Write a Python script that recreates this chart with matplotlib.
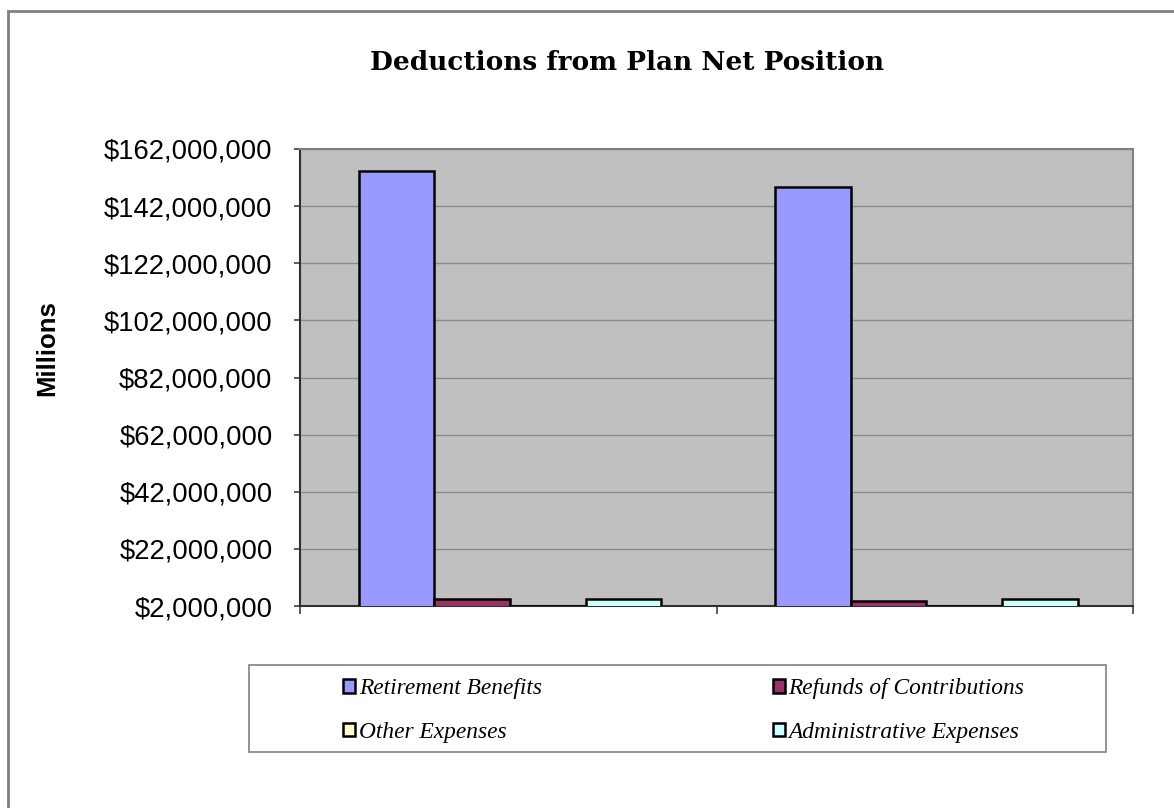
import numpy as np
import matplotlib
matplotlib.use('Agg')
import matplotlib.pyplot as plt
from matplotlib.patches import Rectangle
from matplotlib.ticker import FuncFormatter

# data
years = ['', '']
series_names = ['Retirement Benefits', 'Refunds of Contributions',
                'Other Expenses', 'Administrative Expenses']
retirement = [154400000, 148800000]
refunds = [4400000, 3700000]
other = [2150000, 2150000]
admin = [4400000, 4600000]
colors = ['#9999FF', '#993366', '#FFFFCC', '#CCFFFF']

W, H = 1174, 808
fig = plt.figure(figsize=(W / 100, H / 100), dpi=100)
ax = fig.add_axes([300 / W, 1 - 606 / H, 833 / W, 457 / H])

# outer frame of the chart (right/bottom edges fall outside the image)
fig.patches.append(Rectangle((8 / W, -0.05), 1.2, 1.05 - 11 / H,
                             transform=fig.transFigure, fill=False,
                             edgecolor='#808080', linewidth=2))

x = np.arange(len(years)) + 0.004
width = 0.1815
values = [retirement, refunds, other, admin]
for i, (vals, c, name) in enumerate(zip(values, colors, series_names)):
    ax.bar(x + (i - 1.5) * width, vals, width, color=c, edgecolor='black',
           linewidth=1.8, label=name, zorder=3)

ax.set_xlim(-0.5, 1.5)
ax.set_ylim(2000000, 162000000)
ax.set_yticks(np.arange(2000000, 162000001, 20000000))
ax.yaxis.set_major_formatter(FuncFormatter(lambda v, p: f'${v:,.0f}'))
ax.set_facecolor('#C0C0C0')
ax.grid(True, axis='y', color='#8C8C8C', linewidth=1, zorder=0)

ax.set_xticks([-0.5, 0.5, 1.5])
ax.set_xticklabels(['', '', ''])
ax.tick_params(axis='x', length=6, width=1.2, color='#404040')
ax.tick_params(axis='y', length=4.3, width=1.2, color='#404040', labelsize=19.7, pad=15.5)
for lab in ax.get_yticklabels():
    lab.set_family('Liberation Sans')

for s in ['top', 'right']:
    ax.spines[s].set_color('#808080')
    ax.spines[s].set_linewidth(1.5)
ax.spines['left'].set_color('#303030')
ax.spines['bottom'].set_color('#303030')
ax.spines['left'].set_linewidth(1.5)
ax.spines['bottom'].set_linewidth(1.5)

fig.text(47 / W, 1 - 348 / H, 'Millions', rotation=90, ha='center', va='center',
         fontsize=18.5, fontweight='bold', family='Liberation Sans')
fig.text(627 / W, 1 - 62 / H, 'Deductions from Plan Net Position',
         ha='center', va='center', fontsize=19, fontweight='bold', family='DejaVu Serif')

# legend frame and entries
fig.patches.append(Rectangle((249 / W, 1 - 752 / H), 857 / W, 87 / H,
                             transform=fig.transFigure, fill=True, facecolor='white',
                             edgecolor='#808080', linewidth=1.2))
handles, labels = ax.get_legend_handles_labels()
order = [0, 2, 1, 3]
leg = fig.legend([handles[k] for k in order], [labels[k] for k in order],
                 loc='upper left', bbox_to_anchor=(343 / W, 1 - 678 / H),
                 ncol=2, frameon=False,
                 prop={'family': 'Liberation Serif', 'style': 'italic', 'size': 16.8},
                 handlelength=0.52, handleheight=0.52, handletextpad=0.15,
                 columnspacing=9.9, labelspacing=0.98, borderpad=0, borderaxespad=0)

fig.savefig('out.png', dpi=100)
